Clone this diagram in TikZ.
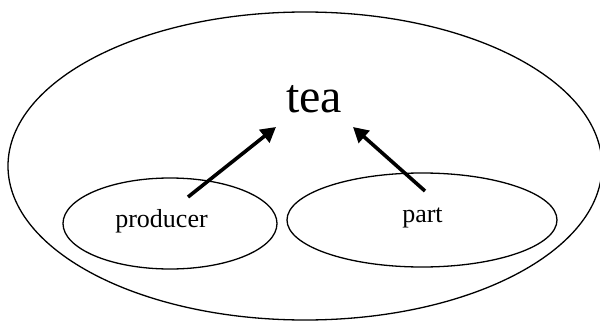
\documentclass[tikz,border=0pt]{standalone}
\usepackage{fontspec}
\setmainfont{Liberation Serif}
\usetikzlibrary{arrows.meta,shapes.geometric}
\begin{document}
\begin{tikzpicture}[x=1pt,y=-1pt,
  region/.style={draw, ellipse, line width=1.3pt, inner sep=0pt},
  label/.style={anchor=base, inner sep=0pt, font=\fontsize{26}{28}\selectfont},
  title/.style={anchor=base, inner sep=0pt, font=\fontsize{48}{50}\selectfont},
  link/.style={line width=3.6pt, -{Triangle[length=15pt,width=16pt]}}]
\useasboundingbox (0,0) rectangle (600,321);

% outer set and the two inner sets
\node[region, minimum width=594pt, minimum height=308pt] (whole) at (305,166) {};
\node[region, minimum width=214pt, minimum height=91pt] (prodset) at (170,223.5) {};
\node[region, minimum width=270pt, minimum height=94pt] (partset) at (422,220) {};

% labels
\node[title] (tea) at (314,112) {tea};
\node[label] (producer) at (161.5,227) {producer};
\node[label] (part) at (422.5,222) {part};

% arrow ends
\coordinate (p0) at (188,197);
\coordinate (p1) at (276,127);
\coordinate (q0) at (425,191);
\coordinate (q1) at (353,127);

\draw[link] (p0) -- (p1);
\draw[link] (q0) -- (q1);
\end{tikzpicture}
\end{document}
